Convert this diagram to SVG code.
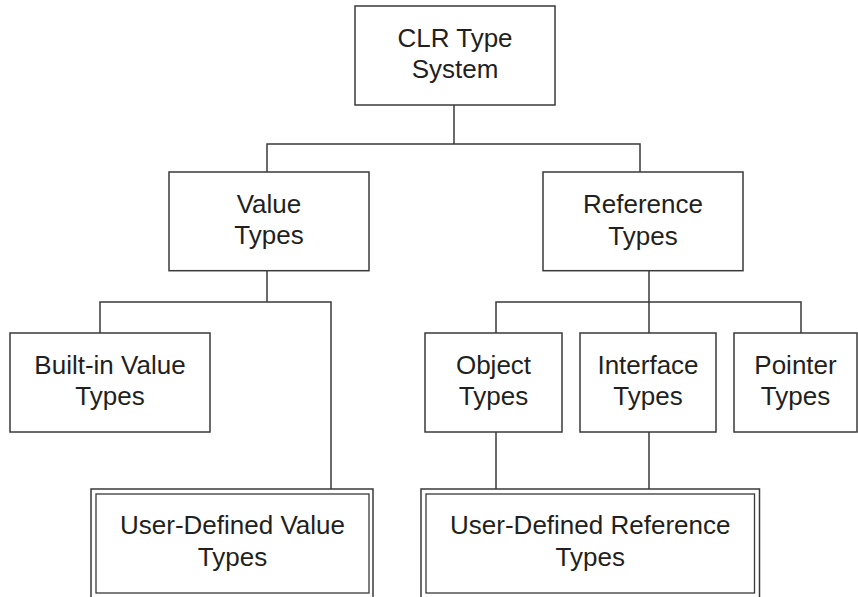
<svg xmlns="http://www.w3.org/2000/svg" width="858" height="597" viewBox="0 0 858 597">
<style>
  .box { fill: #fff; stroke: #3a3a3a; stroke-width: 1.5; }
  .dbl { fill: none; stroke: #3a3a3a; stroke-width: 1.3; }
  .conn { fill: none; stroke: #3a3a3a; stroke-width: 1.5; }
  text { font-family: "Liberation Sans", Arial, Helvetica, sans-serif; font-size: 26px; fill: #231f20; text-anchor: middle; }
</style>
<rect width="858" height="597" fill="#fff"/>
<g id="connectors">
  <path class="conn" d="M454,105 V144 M267,172 V144 H640 V172"/>
  <path class="conn" d="M267,270.7 V302 M100,333 V302 H331 V489"/>
  <path class="conn" d="M649,270.7 V302 M496,333 V302 H801 V333 M649,302 V333"/>
  <path class="conn" d="M496,432 V489 M649,432 V489"/>
</g>
<g id="clr">
  <rect class="box" x="355" y="6" width="200" height="99"/>
  <text x="455" y="46.7">CLR Type</text>
  <text x="455" y="78">System</text>
</g>
<g id="value">
  <rect class="box" x="169" y="172" width="200" height="98.7"/>
  <text x="269" y="212.7">Value</text>
  <text x="269" y="244">Types</text>
</g>
<g id="reference">
  <rect class="box" x="543" y="172" width="200" height="98.7"/>
  <text x="643" y="213">Reference</text>
  <text x="643" y="244.5">Types</text>
</g>
<g id="builtin">
  <rect class="box" x="10" y="333" width="200" height="99"/>
  <text x="110" y="373.5">Built-in Value</text>
  <text x="110" y="405">Types</text>
</g>
<g id="object">
  <rect class="box" x="425" y="333" width="137" height="99"/>
  <text x="493.5" y="373.5">Object</text>
  <text x="493.5" y="405">Types</text>
</g>
<g id="interface">
  <rect class="box" x="580" y="333" width="136" height="99"/>
  <text x="648" y="373.5">Interface</text>
  <text x="648" y="405">Types</text>
</g>
<g id="pointer">
  <rect class="box" x="734" y="333" width="123" height="99"/>
  <text x="795.5" y="373.5">Pointer</text>
  <text x="795.5" y="405">Types</text>
</g>
<g id="userValue">
  <rect class="box" x="91" y="489" width="282" height="112"/>
  <rect class="dbl" x="96" y="494" width="273" height="99"/>
  <text x="232.5" y="534.3">User-Defined Value</text>
  <text x="232.5" y="566">Types</text>
</g>
<g id="userReference">
  <rect class="box" x="421" y="489" width="338.5" height="112"/>
  <rect class="dbl" x="426" y="494" width="328.5" height="99"/>
  <text x="590.25" y="534.3">User-Defined Reference</text>
  <text x="590.25" y="566">Types</text>
</g>
</svg>
